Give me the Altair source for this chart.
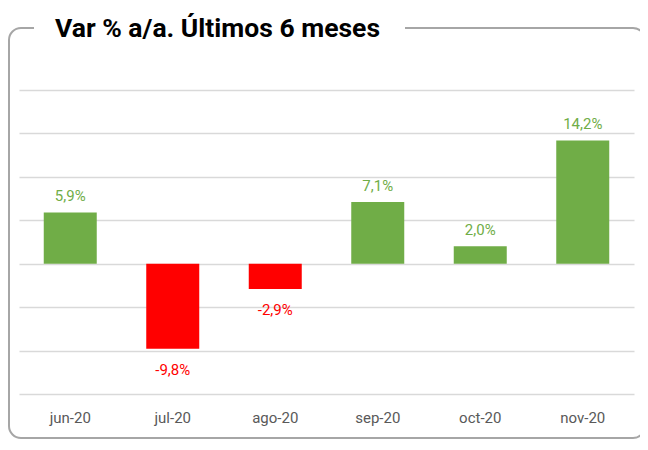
import altair as alt
import pandas as pd

months = ["jun-20", "jul-20", "ago-20", "sep-20", "oct-20", "nov-20"]
values = [5.9, -9.8, -2.9, 7.1, 2.0, 14.2]
labels = ["5,9%", "-9,8%", "-2,9%", "7,1%", "2,0%", "14,2%"]
title_text = "Var % a/a. Últimos 6 meses"

GREEN = "#70AD47"
RED = "#FF0000"

df = pd.DataFrame({"month": months, "value": values, "label": labels})
df["color"] = [GREEN if v >= 0 else RED for v in values]

W, H = 615, 304
FONT = "Roboto"

x = alt.X("month:N", sort=months, title=None,
          scale=alt.Scale(paddingInner=0.48, paddingOuter=0.24),
          axis=alt.Axis(labelAngle=0, ticks=False, domain=False, grid=False,
                        labelFont=FONT, labelFontSize=15, labelColor="#595959",
                        labelPadding=16))
y = alt.Y("value:Q", title=None,
          scale=alt.Scale(domain=[-15, 20], nice=False, zero=False),
          axis=alt.Axis(values=[-15, -10, -5, 0, 5, 10, 15, 20], labels=False,
                        ticks=False, domain=False, grid=True,
                        gridColor="#d9d9d9", gridWidth=1.5))

base = alt.Chart(df)
bars = base.mark_bar(size=53).encode(
    x=x, y=y, y2=alt.datum(0),
    color=alt.Color("color:N", scale=None))

pos_text = base.transform_filter("datum.value >= 0").mark_text(
    baseline="alphabetic", dy=-11, font=FONT, fontSize=15).encode(
    x=alt.X("month:N", sort=months), y="value:Q", text="label:N",
    color=alt.Color("color:N", scale=None))
neg_text = base.transform_filter("datum.value < 0").mark_text(
    baseline="alphabetic", dy=26, font=FONT, fontSize=15).encode(
    x=alt.X("month:N", sort=months), y="value:Q", text="label:N",
    color=alt.Color("color:N", scale=None))

one = pd.DataFrame({"a": [0]})
# decorative frame (pixel positions relative to plot area)
frame = alt.Chart(one).mark_rect(
    fill="transparent", stroke="#a6a6a6", strokeWidth=2, cornerRadius=12).encode(
    x=alt.value(-10), x2=alt.value(626), y=alt.value(-62), y2=alt.value(348))
mask = alt.Chart(one).mark_rect(fill="white").encode(
    x=alt.value(15), x2=alt.value(386), y=alt.value(-66), y2=alt.value(-57))
title = alt.Chart(one).mark_text(
    align="left", baseline="alphabetic", font=FONT, fontSize=26.5,
    fontWeight="bold", color="#000000").encode(
    x=alt.value(36), y=alt.value(-53), text=alt.value(title_text))

chart = alt.layer(frame, mask, title, bars, pos_text, neg_text).properties(
    width=W, height=H,
    autosize=alt.AutoSizeParams(type="none"),
    padding={"left": 11, "top": 82, "right": 6, "bottom": 46},
).configure_view(stroke=None)

chart.save("out.html", embed_options={"renderer": "svg", "actions": False})
